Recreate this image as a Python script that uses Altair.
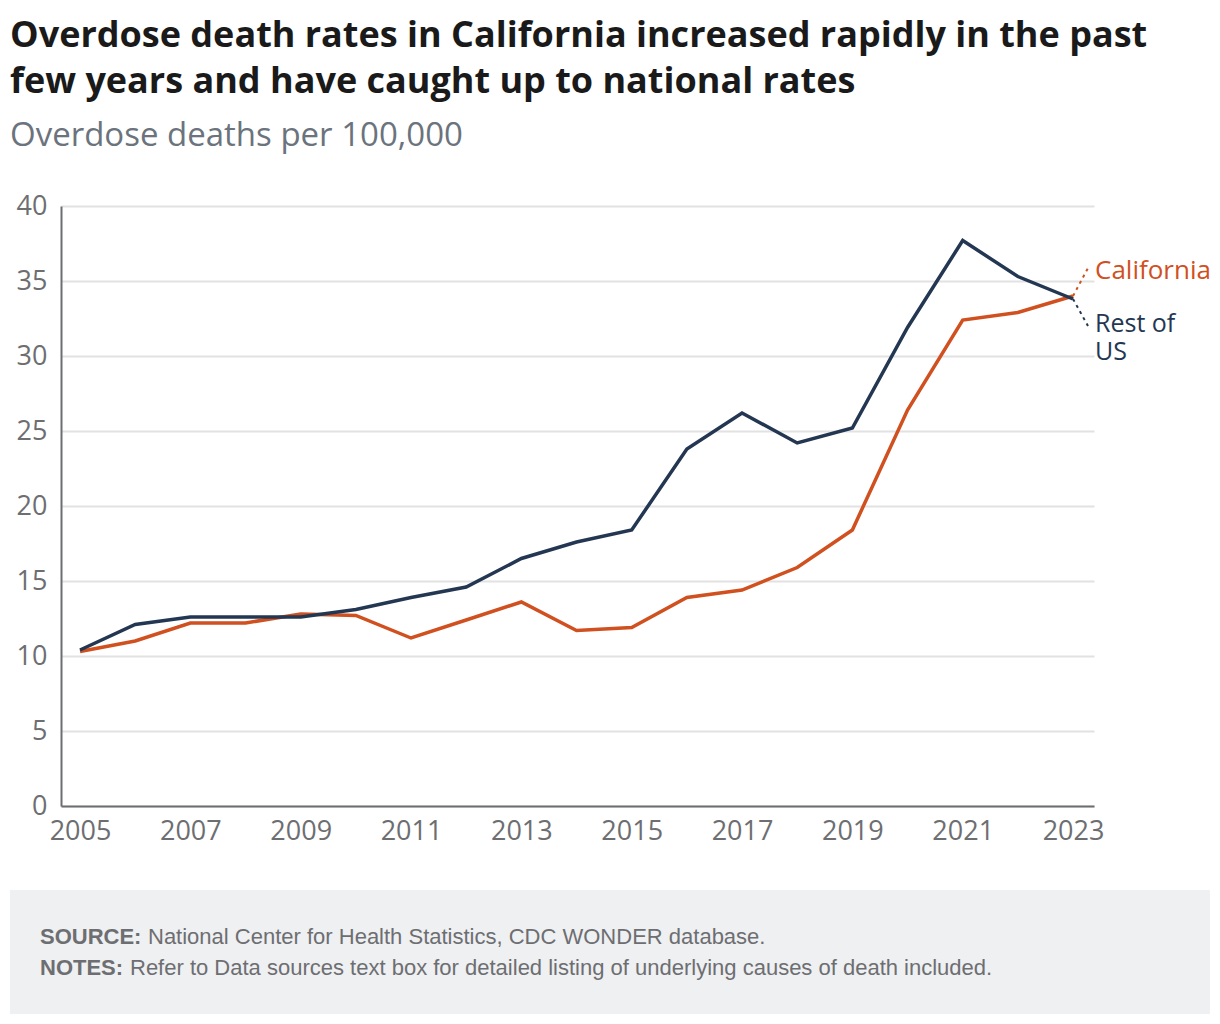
import altair as alt
import pandas as pd

years = list(range(2005, 2024))
california = [10.3, 11.0, 12.2, 12.2, 12.8, 12.7, 11.2, 12.4, 13.6, 11.7, 11.9,
              13.9, 14.4, 15.9, 18.4, 26.4, 32.4, 32.9, 34.0]
rest_of_us = [10.4, 12.1, 12.6, 12.6, 12.6, 13.1, 13.9, 14.6, 16.5, 17.6, 18.4,
              23.8, 26.2, 24.2, 25.2, 31.9, 37.7, 35.3, 33.8]
series_names = ["California", "Rest of US"]
series_colors = ["#D0501F", "#243752"]
x_tick_years = [2005, 2007, 2009, 2011, 2013, 2015, 2017, 2019, 2021, 2023]
y_ticks = [0, 5, 10, 15, 20, 25, 30, 35, 40]

title_lines = ["Overdose death rates in California increased rapidly in the past",
               "few years and have caught up to national rates"]
subtitle = "Overdose deaths per 100,000"
source_label = "SOURCE:"
source_text = "National Center for Health Statistics, CDC WONDER database."
notes_label = "NOTES:"
notes_text = "Refer to Data sources text box for detailed listing of underlying causes of death included."

df = pd.DataFrame({
    "year": years * 2,
    "rate": california + rest_of_us,
    "series": [series_names[0]] * len(years) + [series_names[1]] * len(years),
})

W, H = 1033, 600
GREY = "#6d6e71"
FONT = "Open Sans"

x_enc = alt.X("year:Q",
              scale=alt.Scale(domain=[2004.655, 2023.38], nice=False, zero=False),
              axis=alt.Axis(values=x_tick_years, format="d", title=None, grid=False,
                            ticks=False, domainColor=GREY, domainWidth=2,
                            labelColor=GREY, labelFontSize=27, labelFont=FONT,
                            labelPadding=12, labelFlush=False))
y_enc = alt.Y("rate:Q",
              scale=alt.Scale(domain=[0, 40], nice=False),
              axis=alt.Axis(values=y_ticks, title=None, grid=True, gridColor="#e2e2e2",
                            gridWidth=2, ticks=False, domainColor=GREY, domainWidth=2,
                            labelColor=GREY, labelFontSize=27, labelFont=FONT,
                            labelPadding=14))
color_enc = alt.Color("series:N", scale=alt.Scale(domain=series_names, range=series_colors),
                      legend=None)

base = alt.Chart(df)

one = pd.DataFrame({"a": [0]})
footer_bg = alt.Chart(one).mark_rect(color="#eff0f2").encode(
    x=alt.value(-51), x2=alt.value(1149), y=alt.value(684), y2=alt.value(808))

line_ca = base.transform_filter(alt.datum.series == series_names[0]).mark_line(
    strokeWidth=3.5, strokeJoin="miter").encode(x=x_enc, y=y_enc, color=color_enc)
line_us = base.transform_filter(alt.datum.series == series_names[1]).mark_line(
    strokeWidth=3.5, strokeJoin="miter").encode(x=x_enc, y=y_enc, color=color_enc)

last = base.transform_filter(alt.datum.year == 2023)
conn_ca = last.transform_filter(alt.datum.series == series_names[0]).mark_rule(
    strokeDash=[3, 4], strokeWidth=2).encode(
    x="year:Q", y="rate:Q", x2=alt.value(1027), y2=alt.value(62), color=color_enc)
conn_us = last.transform_filter(alt.datum.series == series_names[1]).mark_rule(
    strokeDash=[3, 4], strokeWidth=2).encode(
    x="year:Q", y="rate:Q", x2=alt.value(1027), y2=alt.value(120), color=color_enc)


def txt(text, x, y, size, color, weight="normal", font=FONT, **kw):
    return alt.Chart(one).mark_text(
        text=text, align="left", baseline="alphabetic", fontSize=size,
        font=font, fontWeight=weight, color=color, **kw).encode(
        x=alt.value(x), y=alt.value(y))


labels = [
    txt(series_names[0], 1034, 73, 26, series_colors[0]),
    txt("Rest of\nUS", 1034, 126, 25, series_colors[1], lineBreak="\n", lineHeight=28),
    txt(title_lines[0], -51, -159, 36, "#1a1a1a", "bold"),
    txt(title_lines[1], -51, -113, 36, "#1a1a1a", "bold"),
    txt(subtitle, -51, -60, 33, "#6b737d"),
    txt(source_label, -21, 738, 22, GREY, "bold", "Liberation Sans"),
    txt(source_text, 87, 738, 22, GREY, "normal", "Liberation Sans"),
    txt(notes_label, -21, 769, 22, GREY, "bold", "Liberation Sans"),
    txt(notes_text, 69, 769, 22, GREY, "normal", "Liberation Sans"),
]

chart = alt.layer(footer_bg, line_ca, line_us, conn_ca, conn_us, *labels).properties(
    width=W, height=H,
    autosize=alt.AutoSizeParams(type="none"),
    padding={"left": 53, "top": 198, "right": 118, "bottom": 208},
    background="white",
).configure_view(stroke=None)

chart.save("out.html", embed_options={"renderer": "svg", "actions": False})
